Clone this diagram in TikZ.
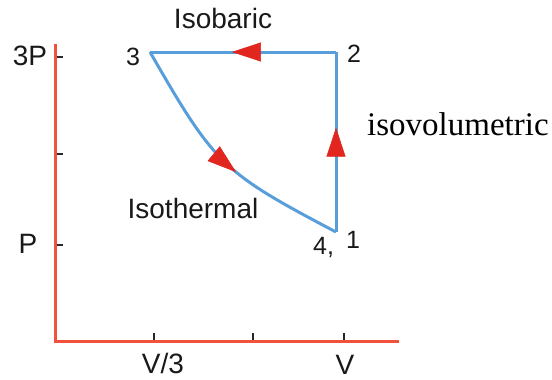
\documentclass[tikz,border=0pt]{standalone}
\usepackage{fontspec}
\setmainfont{Liberation Sans}
\newfontfamily\timesfont{Liberation Serif}
\usetikzlibrary{arrows.meta,decorations.markings}
\definecolor{axisred}{RGB}{240,82,60}
\definecolor{arrred}{RGB}{224,38,30}
\definecolor{lineblue}{RGB}{88,158,218}
\definecolor{tickgray}{RGB}{40,40,40}
\definecolor{txtgray}{RGB}{25,25,25}
\begin{document}
\begin{tikzpicture}[x=1pt,y=-1pt,
  axis/.style={draw=axisred,line width=3pt},
  tickmark/.style={draw=tickgray,line width=2.2pt},
  process/.style={draw=lineblue,line width=3pt,postaction={decorate}},
  lbl/.style={inner sep=0pt,anchor=base,text=txtgray,font=\fontsize{28}{32}\selectfont},
  numlbl/.style={inner sep=0pt,anchor=base,text=txtgray,font=\fontsize{25}{29}\selectfont},
  arrowat/.style={decoration={markings,mark=at position #1 with {\arrow{Triangle[length=29pt,width=19pt,color=arrred,line width=0.5pt]}}}}
]
\useasboundingbox (0,0) rectangle (552,380);
% axes
\coordinate (O) at (55,341);
\coordinate (Ytop) at (55,44);
\coordinate (Xend) at (399,341);
\draw[axis] (Ytop) -- (O) -- (Xend);
% ticks
\draw[tickmark] (56.5,57) -- (63,57);
\draw[tickmark] (56.5,154) -- (63,154);
\draw[tickmark] (56.5,245) -- (63,245);
\draw[tickmark] (154,339.5) -- (154,333);
\draw[tickmark] (253,339.5) -- (253,333);
\draw[tickmark] (344,339.5) -- (344,333);
% states
\coordinate (s3) at (150,52);
\coordinate (s2) at (336,52);
\coordinate (s1) at (336,232);
\draw[process,arrowat=0.56] (s2) -- (s3);
\draw[process,arrowat=0.58] (s1) -- (s2);
\draw[process,arrowat=0.56] (s3) .. controls (215,165) and (222,172) .. (s1);
% labels
\node[lbl] (tIsobaric) at (223,28) {Isobaric};
\node[lbl] (tIsothermal) at (193,218) {Isothermal};
\node[inner sep=0pt,anchor=base west,text=black,font=\timesfont\fontsize{33}{36}\selectfont] (tIsovol) at (367,135) {isovolumetric};
\node[lbl] (t3P) at (30,65) {3P};
\node[lbl] (tP) at (28,253) {P};
\node[lbl] (tV3) at (163,373) {V/3};
\node[lbl] (tV) at (345,374) {V};
\node[numlbl] (n3) at (133,65) {3};
\node[numlbl] (n2) at (354,62) {2};
\node[numlbl,anchor=base west] (n4) at (313,254) {4,};
\node[numlbl] (n1) at (353,248) {1};
\end{tikzpicture}
\end{document}
